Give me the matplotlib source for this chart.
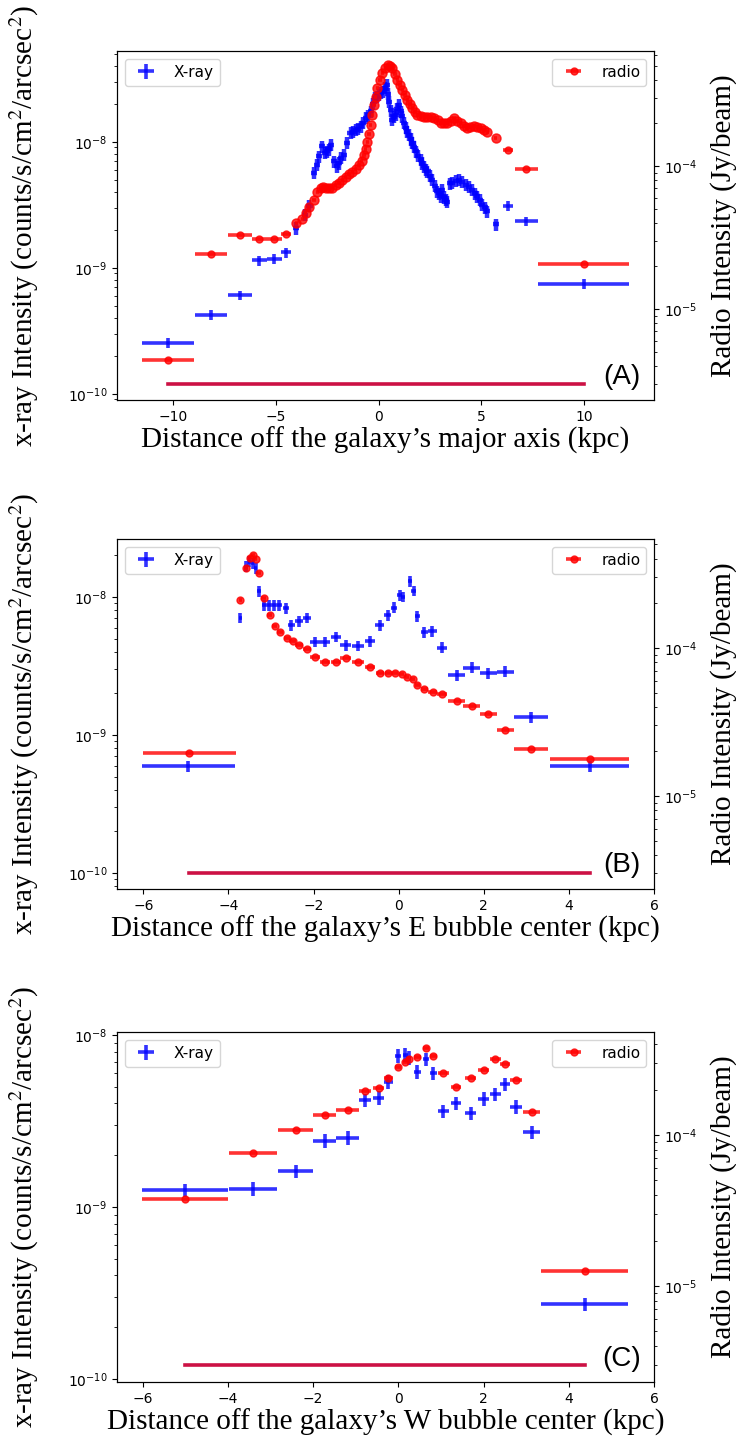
import numpy as np
import matplotlib
matplotlib.use("Agg")
import matplotlib.pyplot as plt

# ---------------- panel A : along the major axis ----------------
# wide outer bins (same bins for x-ray and radio)
a_bin_x = [-10.23, -8.14, -6.75, -5.79, -5.06, -4.49, 6.30, 7.19, 9.98]
a_bin_xerr = [1.25, 0.77, 0.58, 0.35, 0.35, 0.25, 0.25, 0.57, 2.2]
xray_a_bin_logy = [-9.595, -9.372, -9.219, -8.942, -8.931, -8.879, -8.507, -8.631, -9.129]
radio_a_bin_logy = [-5.356, -4.616, -4.484, -4.507, -4.507, -4.472, -3.888, -4.021, -4.686]

# finely sampled inner profile
xray_a_x = [-4.00, -3.58, -3.36, -3.14, -3.01, -2.90, -2.73, -2.62, -2.52, -2.43,
            -2.33, -2.17, -2.00, -1.92, -1.84, -1.68, -1.52, -1.36, -1.22, -1.11,
            -0.98, -0.87, -0.75, -0.62, -0.50, -0.38, -0.28, -0.19, -0.08, 0.02,
            0.12, 0.23, 0.32, 0.40, 0.46, 0.51, 0.59, 0.67, 0.76, 0.84,
            0.92, 1.00, 1.08, 1.16, 1.24, 1.32, 1.40, 1.49, 1.57, 1.65,
            1.73, 1.81, 1.93, 2.05, 2.13, 2.21, 2.30, 2.38, 2.50, 2.62,
            2.74, 2.86, 2.94, 3.02, 3.10, 3.18, 3.26, 3.34, 3.48, 3.59,
            3.75, 3.91, 4.07, 4.24, 4.40, 4.56, 4.68, 4.80, 4.92, 5.05,
            5.17, 5.29, 5.70]
xray_a_logy = [-8.686, -8.580, -8.507, -8.248, -8.182, -8.116, -8.037, -8.090, -8.077, -8.060,
               -8.024, -8.156, -8.196, -8.170, -8.130, -8.103, -8.011, -7.931, -7.920, -7.905,
               -7.900, -7.879, -7.850, -7.812, -7.790, -7.760, -7.700, -7.654, -7.640, -7.628,
               -7.610, -7.601, -7.570, -7.549, -7.620, -7.681, -7.750, -7.826, -7.800, -7.786,
               -7.740, -7.707, -7.760, -7.799, -7.850, -7.891, -7.920, -7.944, -7.980, -8.011,
               -8.040, -8.077, -8.110, -8.143, -8.170, -8.196, -8.220, -8.235, -8.270, -8.301,
               -8.350, -8.394, -8.410, -8.433, -8.380, -8.440, -8.459, -8.475, -8.330, -8.327,
               -8.310, -8.301, -8.320, -8.340, -8.360, -8.380, -8.410, -8.433, -8.460, -8.499,
               -8.520, -8.552, -8.657]

radio_a_x = [-4.00, -3.71, -3.55, -3.39, -3.14, -2.98, -2.82, -2.70, -2.57, -2.41,
             -2.25, -2.08, -1.92, -1.76, -1.60, -1.44, -1.27, -1.11, -0.95, -0.82,
             -0.70, -0.62, -0.54, -0.46, -0.38, -0.30, -0.22, -0.13, -0.05, 0.07,
             0.19, 0.33, 0.47, 0.57, 0.67, 0.80, 0.92, 1.04, 1.16, 1.29,
             1.41, 1.53, 1.65, 1.77, 1.89, 2.05, 2.22, 2.38, 2.54, 2.70,
             2.87, 3.02, 3.18, 3.35, 3.51, 3.67, 3.83, 3.99, 4.15, 4.31,
             4.47, 4.64, 4.80, 4.97, 5.13, 5.29, 5.70]
radio_a_logy = [-4.400, -4.370, -4.331, -4.284, -4.238, -4.180, -4.156, -4.150, -4.156, -4.155,
                -4.152, -4.135, -4.121, -4.100, -4.075, -4.058, -4.040, -4.020, -3.993, -3.965,
                -3.923, -3.880, -3.830, -3.775, -3.713, -3.645, -3.573, -3.515, -3.457, -3.400,
                -3.352, -3.315, -3.294, -3.300, -3.317, -3.355, -3.399, -3.435, -3.469, -3.505,
                -3.538, -3.568, -3.597, -3.622, -3.643, -3.650, -3.655, -3.655, -3.655, -3.665,
                -3.678, -3.701, -3.701, -3.701, -3.685, -3.667, -3.683, -3.701, -3.720, -3.732,
                -3.725, -3.720, -3.725, -3.736, -3.748, -3.764, -3.806]

# ---------------- panel B : E bubble ----------------
xray_b_x = [-4.94, -3.72, -3.59, -3.51, -3.43, -3.36, -3.28, -3.16, -3.04, -2.92,
            -2.81, -2.65, -2.52, -2.34, -2.15, -1.97, -1.73, -1.47, -1.24, -0.96,
            -0.67, -0.45, -0.26, -0.12, 0.02, 0.11, 0.27, 0.35, 0.44, 0.60,
            0.79, 1.01, 1.37, 1.72, 2.11, 2.50, 3.11, 4.49]
xray_b_xerr = [1.10, 0.04, 0.04, 0.04, 0.04, 0.04, 0.05, 0.06, 0.06, 0.06,
               0.06, 0.07, 0.08, 0.09, 0.09, 0.11, 0.12, 0.12, 0.13, 0.14,
               0.12, 0.10, 0.08, 0.07, 0.06, 0.05, 0.05, 0.05, 0.05, 0.08,
               0.10, 0.12, 0.20, 0.20, 0.20, 0.20, 0.40, 0.93]
xray_b_logy = [-9.225, -8.150, -7.780, -7.744, -7.756, -7.792, -7.957, -8.058, -8.058, -8.058,
               -8.058, -8.082, -8.203, -8.174, -8.150, -8.324, -8.324, -8.288, -8.348, -8.353,
               -8.319, -8.203, -8.130, -8.077, -7.986, -7.998, -7.887, -7.955, -8.137, -8.256,
               -8.246, -8.367, -8.565, -8.512, -8.553, -8.541, -8.869, -9.225]

radio_b_x = [-4.92, -3.72, -3.59, -3.50, -3.42, -3.36, -3.28, -3.17, -3.03, -2.91,
             -2.79, -2.63, -2.49, -2.34, -2.15, -1.97, -1.73, -1.47, -1.24, -0.96,
             -0.67, -0.44, -0.24, -0.08, 0.07, 0.20, 0.33, 0.44, 0.60, 0.80,
             1.01, 1.37, 1.72, 2.11, 2.50, 3.12, 4.49]
radio_b_xerr = [1.10, 0.04, 0.04, 0.04, 0.04, 0.04, 0.05, 0.06, 0.06, 0.06,
                0.06, 0.07, 0.08, 0.09, 0.09, 0.11, 0.12, 0.12, 0.13, 0.14,
                0.12, 0.10, 0.08, 0.07, 0.06, 0.05, 0.05, 0.05, 0.08, 0.10,
                0.12, 0.20, 0.20, 0.20, 0.20, 0.40, 0.93]
radio_b_logy = [-4.707, -3.676, -3.461, -3.394, -3.372, -3.399, -3.495, -3.660, -3.777, -3.849,
                -3.894, -3.930, -3.953, -3.980, -4.007, -4.059, -4.093, -4.093, -4.070, -4.093,
                -4.126, -4.167, -4.167, -4.171, -4.178, -4.194, -4.210, -4.252, -4.277, -4.300,
                -4.311, -4.358, -4.392, -4.448, -4.554, -4.684, -4.752]

# ---------------- panel C : W bubble ----------------
c_x = [-5.01, -3.41, -2.41, -1.72, -1.19, -0.78, -0.46, -0.23, 0.00, 0.16,
       0.25, 0.45, 0.65, 0.82, 1.06, 1.36, 1.70, 2.01, 2.28, 2.50,
       2.76, 3.13, 4.38]
c_xerr = [1.01, 0.555, 0.42, 0.27, 0.26, 0.15, 0.13, 0.10, 0.07, 0.06,
          0.06, 0.08, 0.08, 0.08, 0.12, 0.12, 0.13, 0.13, 0.12, 0.11,
          0.14, 0.20, 1.02]
xray_c_logy = [-8.901, -8.895, -8.791, -8.616, -8.597, -8.378, -8.365, -8.271, -8.120, -8.116,
               -8.132, -8.213, -8.140, -8.223, -8.442, -8.397, -8.455, -8.372, -8.345, -8.287,
               -8.417, -8.566, -9.564]
radio_c_logy = [-4.424, -4.121, -3.967, -3.868, -3.836, -3.709, -3.687, -3.625, -3.552, -3.519,
                -3.497, -3.481, -3.426, -3.477, -3.591, -3.680, -3.625, -3.571, -3.497, -3.532,
                -3.636, -3.850, -4.899]

radio_rms = 3e-6          # Jy/beam, horizontal noise line
xray_rel_err = 0.09       # fractional x-ray error

panel_tags = ['(A)', '(B)', '(C)']
xlabels = ['Distance off the galaxy\u2019s major axis (kpc)',
           'Distance off the galaxy\u2019s E bubble center (kpc)',
           'Distance off the galaxy\u2019s W bubble center (kpc)']
left_ylims = [(10**-10.05, 10**-7.28), (10**-10.116, 10**-7.58), (10**-10.017, 10**-7.983)]
right_ylims = [(10**-5.636, 10**-3.196), (10**-5.628, 10**-3.264), (10**-5.636, 10**-3.318)]

BLUE = '#0000ff'
RED = '#ff0000'
LABEL_FONT = 'Liberation Serif'
LABEL_SIZE = 21


def xray_bars(ax, x, logy, xerr, label=None, lw=2.6, rel=xray_rel_err):
    y = 10 ** np.asarray(logy)
    ax.errorbar(x, y, xerr=xerr, yerr=rel * y, fmt='none', ecolor=BLUE,
                elinewidth=lw, alpha=0.8, label=label)


def radio_bars(ax, x, logy, xerr, label=None, ms=5):
    y = 10 ** np.asarray(logy)
    ax.errorbar(x, y, xerr=xerr, fmt='o', color=RED, ms=ms, elinewidth=2.6,
                alpha=0.8, label=label)


def finish(ax, ax2, i, radio_x_all):
    ax2.plot([min(radio_x_all), max(radio_x_all)], [radio_rms, radio_rms],
             color='#cc1144', lw=2.6)
    ax.set_yscale('log')
    ax2.set_yscale('log')
    ax.set_ylim(*left_ylims[i])
    ax2.set_ylim(*right_ylims[i])
    ax.set_xlabel(xlabels[i], fontsize=LABEL_SIZE, family=LABEL_FONT, labelpad=2)
    ax.set_ylabel('x-ray Intensity (counts/s/cm$^2$/arcsec$^2$)', fontsize=LABEL_SIZE,
                  family=LABEL_FONT, math_fontfamily='stix')
    ax2.set_ylabel('Radio Intensity (Jy/beam)', fontsize=LABEL_SIZE, family=LABEL_FONT)
    ax.yaxis.set_label_coords(-0.142, 0.5)
    ax2.yaxis.set_label_coords(1.104, 0.5)
    ax.legend(loc='upper left', fontsize=11)
    ax2.legend(loc='upper right', fontsize=11)
    ax.text(0.975, 0.03, panel_tags[i], transform=ax.transAxes, ha='right',
            va='bottom', fontsize=20, family='Liberation Sans')


fig = plt.figure(figsize=(7.36, 14.41), dpi=100)
W, H = 736.0, 1441.0
tops = [51, 539, 1032]
bottoms = [400, 889, 1382]
axes = []
for t, b in zip(tops, bottoms):
    axes.append(fig.add_axes([117 / W, (H - b) / H, 537 / W, (b - t) / H]))

# panel A
ax = axes[0]
ax2 = ax.twinx()
xray_bars(ax, a_bin_x, xray_a_bin_logy, a_bin_xerr, label='X-ray')
xray_bars(ax, xray_a_x, xray_a_logy, 0.15, lw=3.2, rel=0.11)
radio_bars(ax2, a_bin_x, radio_a_bin_logy, a_bin_xerr, label='radio')
radio_bars(ax2, radio_a_x, radio_a_logy, 0.08, ms=6.5)
finish(ax, ax2, 0, a_bin_x + radio_a_x)
ax.set_xlim(-12.72, 13.4)

# panel B
ax = axes[1]
ax2 = ax.twinx()
xray_bars(ax, xray_b_x, xray_b_logy, xray_b_xerr, label='X-ray')
radio_bars(ax2, radio_b_x, radio_b_logy, radio_b_xerr, label='radio')
finish(ax, ax2, 1, radio_b_x)
ax.set_xlim(-6.62, 6.0)

# panel C
ax = axes[2]
ax2 = ax.twinx()
xray_bars(ax, c_x, xray_c_logy, c_xerr, label='X-ray')
radio_bars(ax2, c_x, radio_c_logy, c_xerr, label='radio')
finish(ax, ax2, 2, c_x)
ax.set_xlim(-6.6, 6.0)

fig.savefig('out.png', dpi=100)
